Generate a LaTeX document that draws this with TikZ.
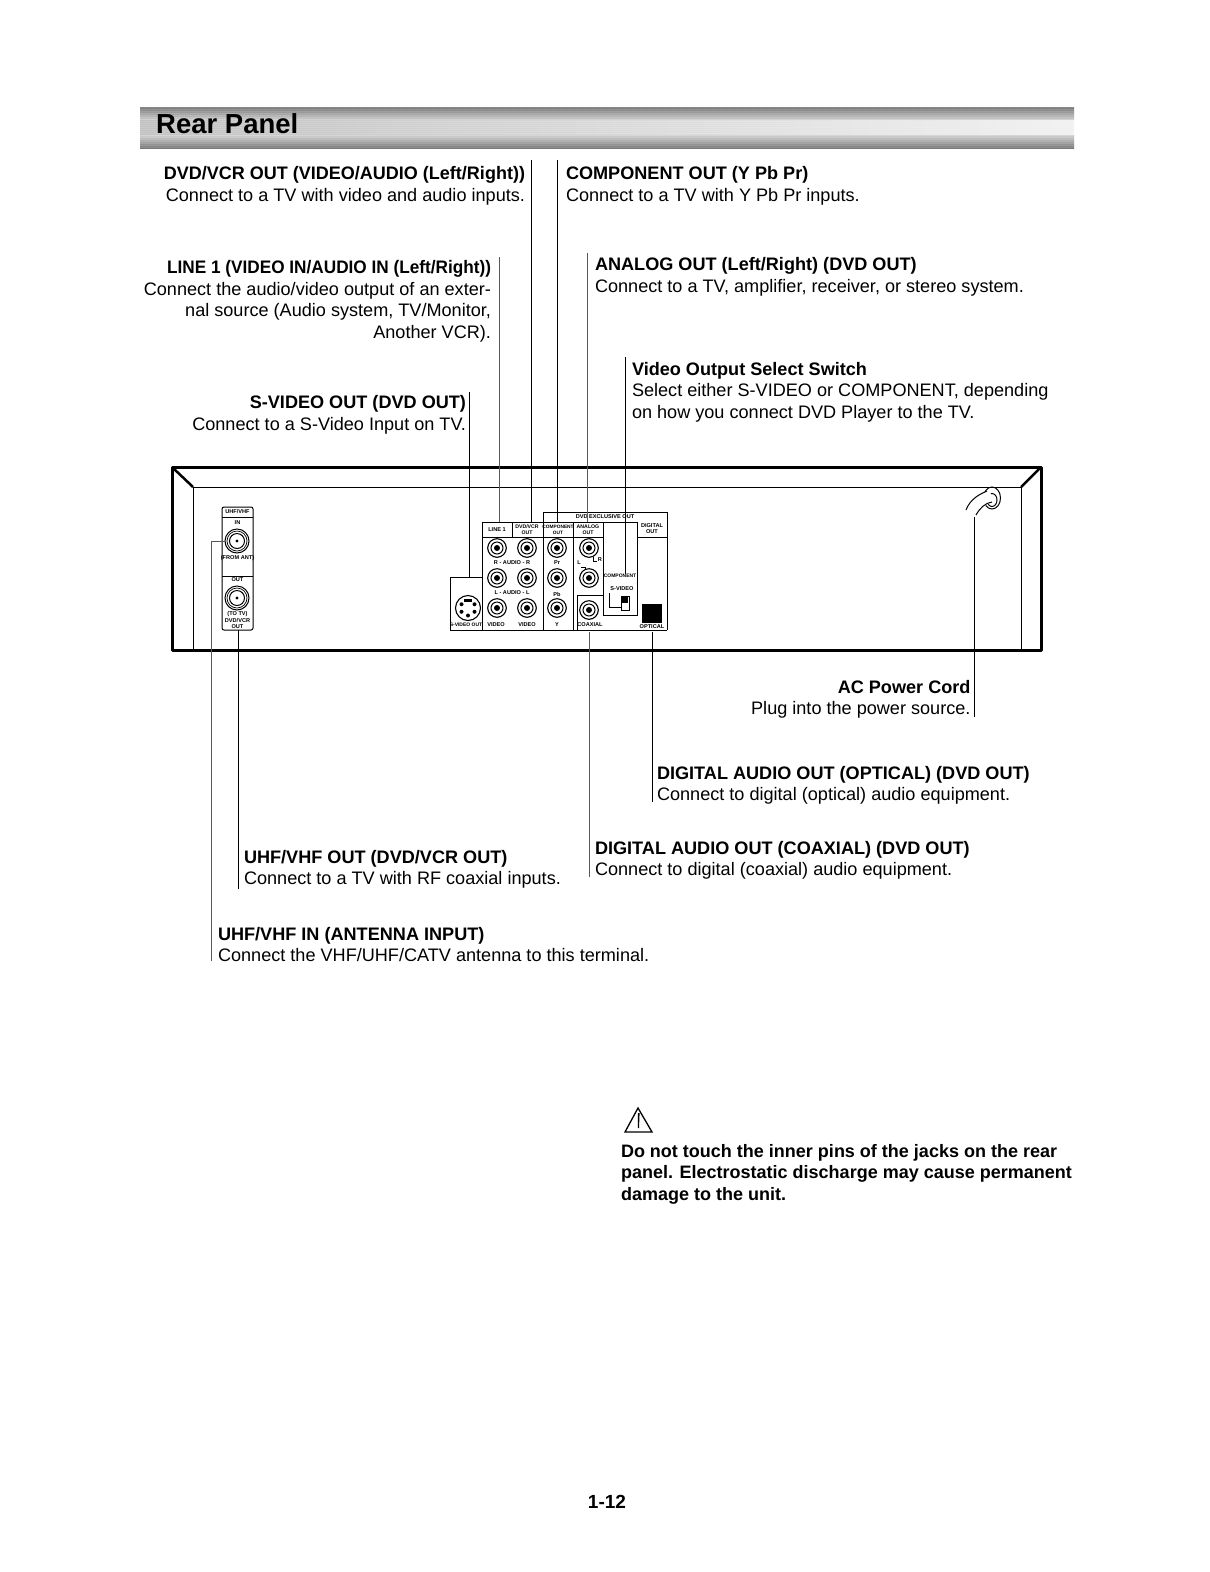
\documentclass[tikz,border=0pt]{standalone}
\usepackage{fontspec}
\usepackage{graphicx}
\setmainfont{Liberation Sans}
\usetikzlibrary{patterns.meta}
\tikzset{
  callout/.style={inner sep=0pt,outer sep=0pt,font=\fontsize{18.1}{21.5}\selectfont},
  calloutL/.style={callout,anchor=north west,align=left},
  calloutR/.style={callout,anchor=north east,align=right},
  leader/.style={draw=black,line width=1pt},
  leaderlight/.style={draw=black!65,line width=1pt},
  tiny/.style={inner sep=0pt,font=\fontsize{5.6}{6}\selectfont\bfseries,align=center},
  body/.style={line width=3pt,line join=round,line cap=round},
  thin/.style={line width=1pt},
  jackouter/.style={draw,line width=1.1pt,fill=white},
}
\newcommand{\rcajack}[2]{%
  \draw[jackouter] (#1,#2) circle (9.3);
  \draw[line width=1pt] (#1,#2) circle (6);
  \fill (#1,#2) circle (3);
}
\newcommand{\rfjack}[2]{%
  \draw[line width=1pt,fill=white] (#1,#2) circle (12);
  \draw[line width=.7pt] (#1,#2) circle (10);
  \draw[line width=1pt] (#1,#2) circle (7.5);
  \fill (#1,#2) circle (1.6);
}
\begin{document}
\begin{tikzpicture}[x=1pt,y=-1pt]
\useasboundingbox (0,0) rectangle (1210,1572);
\fill[white] (0,0) rectangle (1210,1572);

% banner
\shade[top color=black!58,bottom color=black!20] (140,107) rectangle (1074,120);
\shade[left color=black!26,right color=black!6] (140,120) rectangle (1074,135);
\shade[top color=black!20,bottom color=black!58] (140,135) rectangle (1074,148);
\fill[pattern={Dots[distance=2pt,radius=.5pt]},pattern color=white] (140,107) rectangle (1074,148);
\node[inner sep=0pt,anchor=west,font=\fontsize{27.5}{30}\selectfont\bfseries] (title) at (156,124) {Rear Panel};

% callouts
\node[calloutR] (dvdvcr) at (525,166.5) {\textbf{\scalebox{.995}[1]{DVD/VCR OUT (VIDEO/AUDIO (Left/Right))}}\\Connect to a TV with video and audio inputs.};
\node[calloutL] (component) at (566,166.5) {\textbf{COMPONENT OUT (Y Pb Pr)}\\Connect to a TV with Y Pb Pr inputs.};
\node[calloutR] (line1) at (491,260.5) {\textbf{\scalebox{.95}[1]{LINE 1 (VIDEO IN/AUDIO IN (Left/Right))}}\\Connect the audio/video output of an exter-\\nal source (Audio system, TV/Monitor,\\Another VCR).};
\node[calloutL] (analog) at (595,257.5) {\textbf{ANALOG OUT (Left/Right) (DVD OUT)}\\Connect to a TV, amplifier, receiver, or stereo system.};
\node[calloutL] (switch) at (632,362) {\textbf{Video Output Select Switch}\\Select either S-VIDEO or COMPONENT, depending\\on how you connect DVD Player to the TV.};
\node[calloutR] (svideo) at (466,395.5) {\textbf{S-VIDEO OUT (DVD OUT)}\\Connect to a S-Video Input on TV.};
\node[calloutR] (ac) at (970.5,680) {\textbf{AC Power Cord}\\Plug into the power source.};
\node[calloutL] (optical) at (657,766) {\textbf{DIGITAL AUDIO OUT (OPTICAL) (DVD OUT)}\\Connect to digital (optical) audio equipment.};
\node[calloutL] (coaxial) at (595,841) {\textbf{DIGITAL AUDIO OUT (COAXIAL) (DVD OUT)}\\Connect to digital (coaxial) audio equipment.};
\node[calloutL] (uhfout) at (244,850) {\textbf{UHF/VHF OUT (DVD/VCR OUT)}\\Connect to a TV with RF coaxial inputs.};
\node[calloutL] (uhfin) at (218,927) {\textbf{UHF/VHF IN (ANTENNA INPUT)}\\Connect the VHF/UHF/CATV antenna to this terminal.};
\node[calloutL,font=\fontsize{18}{21.5}\selectfont] (warning) at (621,1144) {\textbf{Do not touch the inner pins of the jacks on the rear}\\\textbf{panel. Electrostatic discharge may cause permanent}\\\textbf{damage to the unit.}};
\node[inner sep=0pt,font=\fontsize{19}{22}\selectfont\bfseries] (page) at (607,1502) {1-12};

% warning triangle
\draw[line width=1.3pt,line join=miter] (638,1108) -- (625,1132) -- (652,1132) -- cycle;
\fill (638,1113) -- (639.6,1113) -- (639,1128) -- (637.8,1128) -- cycle;

% cabinet
\draw[body] (172,467) -- (1041,467) -- (1041,650) -- (172,650) -- cycle;
\draw[line width=1pt] (193,650) -- (193,487) -- (1021,487) -- (1021,650);
\draw[line width=2.5pt] (172,467) -- (193,487);
\draw[line width=2.5pt] (1041,467) -- (1021,487);

% UHF/VHF block
\draw[thin,rounded corners=2pt] (222,507) rectangle (253,630);
\draw[thin] (222,517) -- (253,517) (222,576) -- (253,576);
\node[tiny] (lbuhf) at (237.5,511.5) {UHF/VHF};
\node[tiny] (lbin) at (237.5,522.5) {IN};
\node[tiny] (lbant) at (237.5,558) {(FROM ANT)};
\node[tiny] (lbout) at (237.5,580) {OUT};
\node[tiny] (lbtv) at (237.5,614) {(TO TV)};
\node[tiny] (lbdv) at (237.5,621) {DVD/VCR};
\node[tiny] (lbdo) at (237.5,627) {OUT};
\rfjack{237}{541}
\rfjack{237}{598}

% S-video block
\draw[thin] (450,577) -- (482,577) (450,577) -- (450,630) -- (482,630);
\draw[thin] (482,522) -- (482,630);
\draw[line width=1.1pt] (468,608) circle (12.5);
\foreach \a in {30,90,150,210,330}{\fill (468,608) ++(\a:7.5) circle (2);}
\fill (464,599) rectangle (472,602);
\node[tiny,font=\fontsize{5}{6}\selectfont\bfseries] (lbsv) at (466,625) {S-VIDEO OUT};

% jack block
\draw[thin] (482,522) -- (603,522) (482,537) -- (603,537);
\draw[thin] (543,522) |- (667,512) -- (667,630);
\draw[thin] (482,630) -- (667,630);
\draw[thin] (512,522) -- (512,537);
\draw[thin] (543,512) -- (543,630);
\draw[thin] (573,522) -- (573,630);
\draw[thin] (603,522) -- (637,522);
\draw[thin] (603,522) -- (603,615) -- (637,615) -- (637,522);
\draw[thin] (637,537) -- (667,537);
\draw[thin] (577,630) -- (577,595) -- (603,595);
\node[tiny] (lbex) at (605,517) {DVD EXCLUSIVE OUT};
\node[tiny] (lbl1) at (497,530) {LINE 1};
\node[tiny,font=\fontsize{5.2}{6}\selectfont\bfseries] (lbdvc) at (527,530) {DVD/VCR\\OUT};
\node[tiny,font=\fontsize{4.8}{6}\selectfont\bfseries] (lbcp) at (558,530) {COMPONENT\\OUT};
\node[tiny,font=\fontsize{5.2}{6}\selectfont\bfseries] (lban) at (588,530) {ANALOG\\OUT};
\node[tiny] (lbdg) at (652,529) {DIGITAL\\OUT};
\node[tiny] (lbra) at (512,563) {R - AUDIO - R};
\node[tiny] (lbla) at (512,593) {L - AUDIO - L};
\node[tiny] (lbpr) at (557,563) {Pr};
\node[tiny] (lbpb) at (557,594) {Pb};
\node[tiny] (lby) at (557,625) {Y};
\node[tiny] (lbv1) at (496,625) {VIDEO};
\node[tiny] (lbv2) at (527,625) {VIDEO};
\node[tiny] (lbcx) at (590,625) {COAXIAL};
\node[tiny] (lbop) at (652,627) {OPTICAL};
\node[tiny,font=\fontsize{5}{6}\selectfont\bfseries] (lbcm) at (620,576) {COMPONENT};
\node[tiny] (lbsw) at (622,589) {S-VIDEO};
\node[tiny] (lbL) at (579,563) {L};
\node[tiny] (lbR) at (600,560) {R};
\foreach \x in {497,527,557}{\foreach \y in {548,578,608}{\rcajack{\x}{\y}}}
\rcajack{589}{548}
\rcajack{589}{578}
\rcajack{589}{610}
\draw[thin] (593,556.5) -- (593,561) -- (597,561) (585,569.5) -- (585,567) -- (581,567);
% switch
\draw[thin] (609,593) -- (609,607) -- (621,607);
\draw[thin,fill=white] (621,596) rectangle (629,610);
\fill (622,597) rectangle (628,603);
% optical port
\fill (642,604) rectangle (662,623);

% power cord
\draw[line width=1pt] (992,498) ellipse (8.5 and 11);
\draw[line width=1pt] (992,500) ellipse (5 and 6.5);
\fill[white] (962,512) .. controls (970,498) and (980,493) .. (990,491) -- (993,503) .. controls (985,504) and (980,508) .. (976,515) -- cycle;
\draw[line width=1pt] (966,510) .. controls (970,499) and (980,494) .. (987,491);
\draw[line width=1pt] (976,515) .. controls (980,508) and (985,503) .. (992,502);

% anchors of the leaders
\coordinate (tdvd) at (531.5,160);
\coordinate (bdvd) at (531.5,522);
\coordinate (tcmp) at (557,160);
\coordinate (bcmp) at (557,522);
\coordinate (tln) at (499,257);
\coordinate (bln) at (499,522);
\coordinate (tana) at (587.7,253);
\coordinate (bana) at (587.7,522);
\coordinate (tsw) at (625.3,357);
\coordinate (bsw) at (625.3,574);
\coordinate (tsv) at (469.3,392);
\coordinate (bsv) at (469.3,577);
\coordinate (tac) at (974.3,717);
\coordinate (bac) at (974.3,517);
\coordinate (topt) at (652.3,802);
\coordinate (bopt) at (652.3,632);
\coordinate (tcox) at (589,877);
\coordinate (bcox) at (589,632);
\coordinate (tuo) at (238.5,889);
\coordinate (buo) at (238.5,630);
\coordinate (tui) at (211.7,961);
\coordinate (bui) at (211.7,541);
\coordinate (eui) at (225,541);

\draw[leader] (tdvd) -- (bdvd);
\draw[leader] (tcmp) -- (bcmp);
\draw[leaderlight] (tln) -- (bln);
\draw[leaderlight] (tana) -- (bana);
\draw[leader] (tsw) -- (bsw);
\draw[leader] (tsv) -- (bsv);
\draw[leader] (tac) -- (bac);
\draw[leader] (topt) -- (bopt);
\draw[leaderlight] (tcox) -- (bcox);
\draw[leader] (tuo) -- (buo);
\draw[leaderlight] (tui) -- (bui) -- (eui);
\end{tikzpicture}
\end{document}
